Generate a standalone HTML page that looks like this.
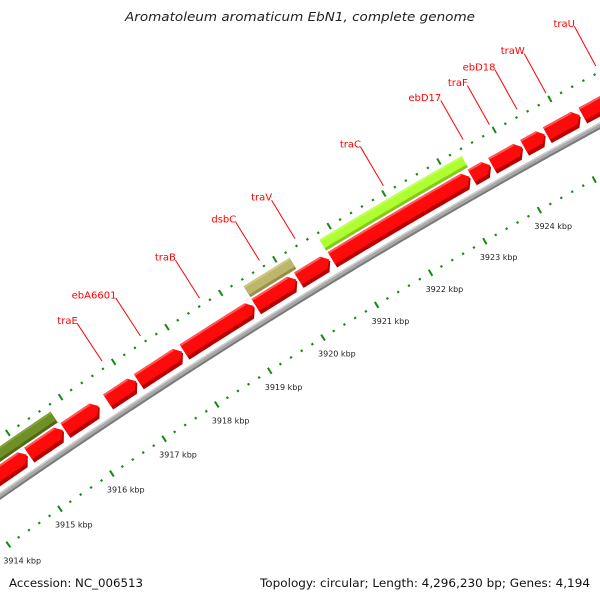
<!DOCTYPE html>
<html>
<head>
<meta charset="utf-8">
<style>
  html,body{margin:0;padding:0;background:#fff;width:600px;height:600px;overflow:hidden;}
  svg{display:block;overflow:hidden;}
  text{font-family:"DejaVu Sans","Liberation Sans",sans-serif;}
</style>
</head>
<body>
<svg id="map" width="600" height="600" viewBox="0 0 600 600">
  <defs><clipPath id="frame"><rect x="0" y="0" width="600" height="600"/></clipPath></defs>
  <text x="300" y="21" text-anchor="middle" font-size="12.5" font-style="italic" fill="#222" textLength="350" lengthAdjust="spacingAndGlyphs">Aromatoleum aromaticum EbN1, complete genome</text>
  <g clip-path="url(#frame)">
  <g id="scaleInner"></g>
  <g id="scaleOuter"></g>
  <g id="backbone"></g>
  <g id="genes"></g>
  <g id="labels"></g>
  </g>
  <text x="9" y="587" font-size="11.5" fill="#111" textLength="134" lengthAdjust="spacingAndGlyphs">Accession: NC_006513</text>
  <text x="590" y="587" text-anchor="end" font-size="11.5" fill="#111" textLength="330" lengthAdjust="spacingAndGlyphs">Topology: circular; Length: 4,296,230 bp; Genes: 4,194</text>
</svg>
<script>
// ---- data (kbp) ----
const geneStart  = [3913.30,3915.08,3915.77,3916.58,3917.16,3918.02,3919.36,3920.15,3920.77,3923.33,3923.70,3924.28,3924.69,3925.33, 3913.00,3915.05,3919.36,3920.76];
const geneEnd    = [3915.05,3915.74,3916.42,3917.13,3917.99,3919.33,3920.12,3920.73,3923.30,3923.67,3924.25,3924.66,3925.29,3926.43, 3915.05,3915.74,3920.21,3923.35];
const geneStrand = [1,1,1,1,1,1,1,1,1,1,1,1,1,1, -1,-1,-1,-1];
const geneColor  = ["red","red","red","red","red","red","red","red","red","red","red","red","red","red","olive","olive","khaki","lime"];
const geneLabel  = ["","","","traE","ebA6601","traB","","traV","","ebD17","traF","ebD18","traW","traU","","","dsbC","traC"];
const scaleMajor = [3913,3914,3915,3916,3917,3918,3919,3920,3921,3922,3923,3924,3925];
const scaleLabels = ["","3914 kbp","3915 kbp","3916 kbp","3917 kbp","3918 kbp","3919 kbp","3920 kbp","3921 kbp","3922 kbp","3923 kbp","3924 kbp",""];

// ---- geometry ----
const NS = "http://www.w3.org/2000/svg";
const CX = 3669.5, CY = 5769.5;
const PHI0 = -122.2 * Math.PI / 180, DTH = 0.00984, K0 = 3919;
const G = 6424.5;
const R_IN = 6380, R_OUT = 6472;
function pt(k, r){ const p = PHI0 + (k - K0) * DTH; return [CX + r*Math.cos(p), CY + r*Math.sin(p)]; }
function arc(k0, k1, r){ const n = Math.max(2, Math.ceil(Math.abs(k1-k0)/0.05)); const a=[]; for(let i=0;i<=n;i++){ a.push(pt(k0+(k1-k0)*i/n, r)); } return a; }
function poly(pts){ return pts.map(p=>p[0].toFixed(2)+","+p[1].toFixed(2)).join(" "); }
function mk(tag, parent, attrs){ const e=document.createElementNS(NS,tag); for(const k in attrs) e.setAttribute(k, attrs[k]); parent.appendChild(e); return e; }
function inFrame(p){ return p[0] > -5 && p[0] < 605 && p[1] > -5 && p[1] < 605; }

const palette = {
  red:   {face:"#ff0a0a", shadow:"#b80000", hi:"#ff6a6a"},
  olive: {face:"#6f9025", shadow:"#506a17", hi:"#8aa845"},
  khaki: {face:"#bdb76b", shadow:"#96904c", hi:"#d2cd8c"},
  lime:  {face:"#adff2f", shadow:"#86c81e", hi:"#c8ff70"}
};

// ---- rulers ----
function ruler(gid, r, withLabels){
  const g = document.getElementById(gid);
  for (let i=0;i<scaleMajor.length;i++){
    for (let j=0;j<5;j++){
      const k = scaleMajor[i] + j*0.2;
      const len = j===0 ? 3.5 : 1.1;
      const a = pt(k, r-len), b = pt(k, r+len);
      if (!inFrame(a) || !inFrame(b)) continue;
      const t = mk("line", g, {x1:a[0],y1:a[1],x2:b[0],y2:b[1],stroke:"#148a14","stroke-width":j===0?2:2.2});
      
      
    }
    if (withLabels && scaleLabels[i]){
      const p = pt(scaleMajor[i], r);
      const tx = mk("text", g, {x:p[0]-5, y:p[1]+19, "font-size":"8", fill:"#222"});
      tx.textContent = scaleLabels[i];
      
      
    }
  }
}
ruler("scaleInner", R_IN, true);
ruler("scaleOuter", R_OUT, false);

// ---- backbone ----
(function(){
  const g = document.getElementById("backbone");
  const kA = 3913.5, kB = 3926.5;
  const dark = mk("polygon", g, {points: poly(arc(kA,kB,G+3).concat(arc(kB,kA,G-3.2))), fill:"#7a7a7a"});
  
  
  const mid = mk("polygon", g, {points: poly(arc(kA,kB,G+3).concat(arc(kB,kA,G-1.2))), fill:"#a8a8a8"});
  
  
  const hi = mk("polygon", g, {points: poly(arc(kA,kB,G+3).concat(arc(kB,kA,G+1.6))), fill:"#cfcfcf"});
  
  
})();

// ---- genes ----
(function(){
  const g = document.getElementById("genes");
  const lg = document.getElementById("labels");
  const TIP = 0.1;
  for (let i=0;i<geneStart.length;i++){
    const k0 = geneStart[i], k1 = geneEnd[i], c = palette[geneColor[i]];
    const grp = mk("g", g, {});
    
    
    if (geneStrand[i] === 1){
      const rb = G+8, rt = G+26, rs = G+12;
      const tipK = k1 - TIP;
      const full = arc(k0, tipK, rt).concat([pt(k1, (rb+rt)/2)]).concat(arc(tipK, k0, rb));
      mk("polygon", grp, {points: poly(full), fill:c.shadow});
      const face = arc(k0, tipK, rt).concat([pt(k1, (rs+rt)/2)]).concat(arc(tipK, k0, rs));
      mk("polygon", grp, {points: poly(face), fill:c.face});
      const hi = arc(k0, tipK, rt).concat(arc(tipK, k0, rt-2));
      mk("polygon", grp, {points: poly(hi), fill:c.hi, opacity:"0.8"});
    } else {
      const rb = G+28, rt = G+41, rs = G+31;
      mk("polygon", grp, {points: poly(arc(k0,k1,rt).concat(arc(k1,k0,rb))), fill:c.shadow});
      mk("polygon", grp, {points: poly(arc(k0,k1,rt).concat(arc(k1,k0,rs))), fill:c.face});
      mk("polygon", grp, {points: poly(arc(k0,k1,rt).concat(arc(k1,k0,rt-2))), fill:c.hi, opacity:"0.8"});
    }
    if (geneLabel[i]){
      const kc = (k0 + k1) / 2;
      const a = pt(kc, 6479), b = pt(kc, 6524);
      const ln = mk("line", lg, {x1:a[0],y1:a[1],x2:b[0],y2:b[1],stroke:"#ff0000","stroke-width":"1"});
      
      
      const tx = mk("text", lg, {x:b[0]+0.5, y:b[1]+0.5, "text-anchor":"end", "font-size":"10", fill:"#ff0000"});
      tx.textContent = geneLabel[i];
      
      
    }
  }
})();
</script>
</body>
</html>
